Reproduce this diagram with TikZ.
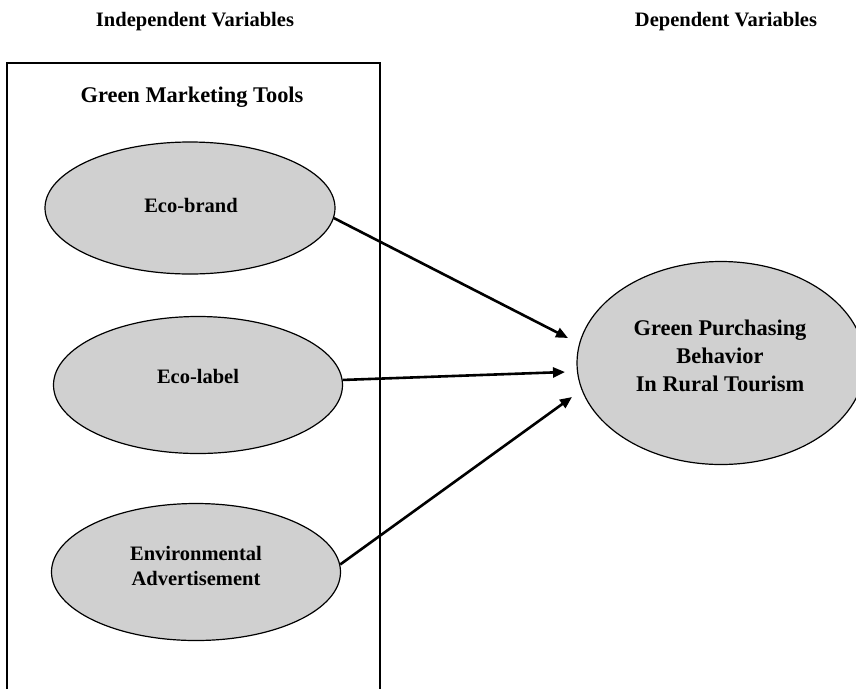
\documentclass[tikz,border=0pt]{standalone}
\usepackage{fontspec}
\setmainfont{Liberation Serif}
\usetikzlibrary{arrows.meta,shapes.geometric}
\definecolor{ovalfill}{RGB}{208,208,208}
\begin{document}
\begin{tikzpicture}[x=1pt,y=-1pt,
  oval/.style={ellipse, draw=black, line width=1.2pt, fill=ovalfill, inner sep=0pt},
  lbl/.style={font=\bfseries\fontsize{20.5}{25}\selectfont, inner sep=0pt, align=center},
  biglbl/.style={font=\bfseries\fontsize{22.4}{28}\selectfont, inner sep=0pt, align=center},
  conn/.style={line width=2.6pt, -{Triangle[length=12pt,width=10pt]}},
  frame/.style={line width=1.3pt}]
\useasboundingbox (0,0) rectangle (856,689);
% headings
\node[lbl, anchor=base] (iv) at (195,26.5) {Independent Variables};
\node[lbl, anchor=base] (dv) at (726,26.5) {Dependent Variables};
% frame of the independent variables
\coordinate (fbl) at (7,689);
\coordinate (ftl) at (7,63);
\coordinate (ftr) at (380,63);
\coordinate (fbr) at (380,689);
\draw[frame] (fbl) -- (ftl) -- (ftr) -- (fbr);
\node[biglbl, anchor=base] (gmt) at (192,102) {Green Marketing Tools};
% ellipses
\node[oval, minimum width=290pt, minimum height=132pt] (eb) at (190,208) {};
\node[oval, minimum width=289pt, minimum height=137pt] (el) at (198,385) {};
\node[oval, minimum width=289pt, minimum height=137pt] (ea) at (196,572) {};
\node[oval, minimum width=288pt, minimum height=203pt] (gp) at (721,363) {};
% texts
\node[lbl, anchor=base] (ebt) at (191,212) {Eco-brand};
\node[lbl, anchor=base] (elt) at (198,383) {Eco-label};
\node[lbl] (eat) at (196,565.5) {Environmental\\Advertisement};
\node[biglbl] (gpt) at (720,355.5) {Green Purchasing\\Behavior\\In Rural Tourism};
% arrow tips
\coordinate (t1) at (568,338);
\coordinate (t2) at (565,372);
\coordinate (t3) at (572,397);
\draw[conn] (eb.-4) -- (t1);
\draw[conn] (el.2) -- (t2);
\draw[conn] (ea.3) -- (t3);
\end{tikzpicture}
\end{document}
